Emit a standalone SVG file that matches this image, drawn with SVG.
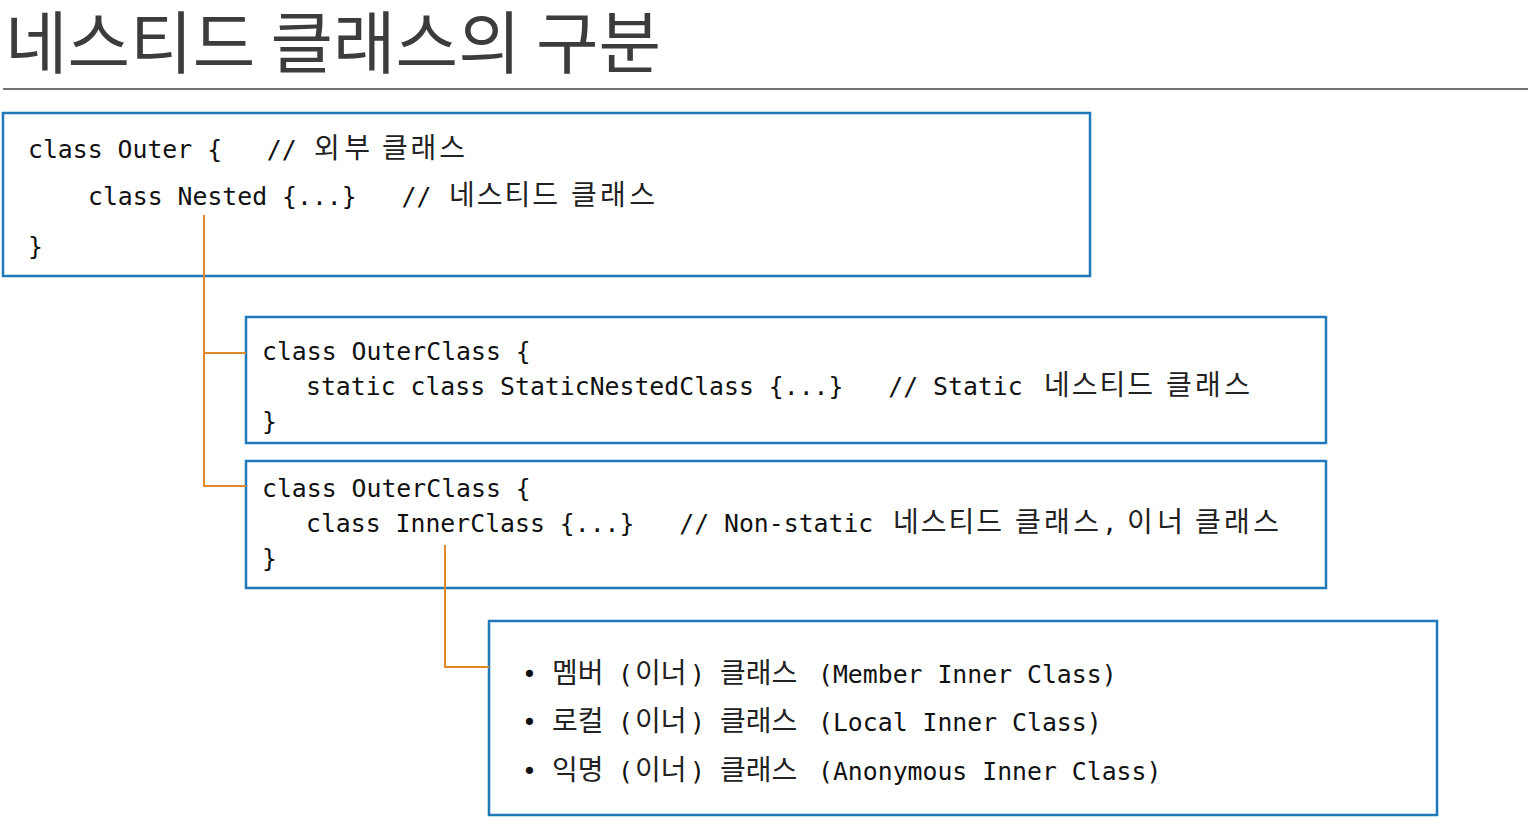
<svg xmlns="http://www.w3.org/2000/svg" width="1532" height="825" viewBox="0 0 1532 825">
<style>
.box{fill:#fff;stroke:#1f78b8;stroke-width:2.5}
.code{font-family:"DejaVu Sans Mono","Liberation Mono","Noto Sans CJK KR",monospace;font-size:24.8px;fill:#111;white-space:pre}
.ko{font-family:"Noto Sans CJK KR",sans-serif;font-size:28px;fill:#222}
.title{font-family:"Noto Sans CJK KR",sans-serif;font-size:68px;fill:#3c3c3c}
.conn{fill:none;stroke:#e0892a;stroke-width:2}
</style>
<rect width="1532" height="825" fill="#fff"/>
<text class="title" x="5" y="68">네스티드 클래스의 구분</text>
<line x1="3" y1="89" x2="1528" y2="89" stroke="#444" stroke-width="1.5"/>

<g id="outer">
<rect class="box" x="3" y="113" width="1087" height="163"/>
<text class="code" x="28" y="158" xml:space="preserve">class Outer {   //<tspan class="ko" x="314" textLength="56">외부</tspan><tspan class="ko" x="382" textLength="83">클래스</tspan></text>
<text class="code" x="88" y="205" xml:space="preserve">class Nested {...}   //<tspan class="ko" x="449" textLength="109">네스티드</tspan><tspan class="ko" x="571" textLength="84">클래스</tspan></text>
<text class="code" x="28" y="255">}</text>
</g>

<g id="static-nested">
<rect class="box" x="246" y="317" width="1080" height="126"/>
<text class="code" x="262" y="360">class OuterClass {</text>
<text class="code" x="306" y="395" xml:space="preserve">static class StaticNestedClass {...}   // Static<tspan class="ko" x="1044" textLength="109">네스티드</tspan><tspan class="ko" x="1166" textLength="84">클래스</tspan></text>
<text class="code" x="262" y="430">}</text>
</g>

<g id="inner">
<rect class="box" x="246" y="461" width="1080" height="127"/>
<text class="code" x="262" y="497">class OuterClass {</text>
<text class="code" x="306" y="532" xml:space="preserve">class InnerClass {...}   // Non-static<tspan class="ko" x="893" textLength="109">네스티드</tspan><tspan class="ko" x="1015" textLength="84">클래스</tspan>,<tspan class="ko" x="1127" textLength="56">이너</tspan><tspan class="ko" x="1195" textLength="84">클래스</tspan></text>
<text class="code" x="262" y="567">}</text>
</g>

<g id="inner-kinds">
<rect class="box" x="489" y="621" width="948" height="194"/>
<text class="code" x="522" y="683">•</text>
<text class="code" x="553" y="683"><tspan class="ko" x="552">멤버</tspan><tspan x="618">(</tspan><tspan class="ko" x="635">이너</tspan><tspan x="690">)</tspan><tspan class="ko" x="720">클래스</tspan><tspan x="818">(Member Inner Class)</tspan></text>
<text class="code" x="522" y="731">•</text>
<text class="code" x="553" y="731"><tspan class="ko" x="552">로컬</tspan><tspan x="618">(</tspan><tspan class="ko" x="635">이너</tspan><tspan x="690">)</tspan><tspan class="ko" x="720">클래스</tspan><tspan x="818">(Local Inner Class)</tspan></text>
<text class="code" x="522" y="780">•</text>
<text class="code" x="553" y="780"><tspan class="ko" x="552">익명</tspan><tspan x="618">(</tspan><tspan class="ko" x="635">이너</tspan><tspan x="690">)</tspan><tspan class="ko" x="720">클래스</tspan><tspan x="818">(Anonymous Inner Class)</tspan></text>
</g>

<g id="connectors">
<path class="conn" d="M204 215 V486 H246 M204 353 H246"/>
<path class="conn" d="M445 545 V667 H489"/>
</g>
</svg>
